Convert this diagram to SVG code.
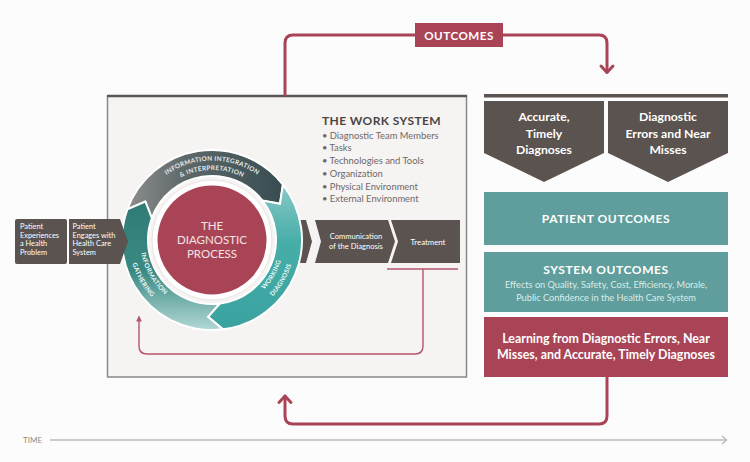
<svg xmlns="http://www.w3.org/2000/svg" width="750" height="462" viewBox="0 0 750 462">
  <style>
    .sans { font-family: Lato, "Open Sans", "Liberation Sans", sans-serif; }
    .gray { fill: #5a534f; }
    .wt { fill: #ffffff; }
    .bold { font-weight: bold; }
    .ring-label { font-family: Lato, "Open Sans", "Liberation Sans", sans-serif; font-size: 6.4px; font-weight: bold; letter-spacing: 0.3px; }
    .loop { fill: none; stroke: #a94456; stroke-width: 3; stroke-linecap: round; stroke-linejoin: round; }
    .inner-loop { fill: none; stroke: #b5566a; stroke-width: 1.4; }
    .seg { stroke: #ffffff; stroke-width: 2; }
  </style>
  <defs>
    <linearGradient id="gInteg" gradientUnits="userSpaceOnUse" x1="128" y1="0" x2="290" y2="0">
      <stop offset="0" stop-color="#8d8d8d"/>
      <stop offset="0.35" stop-color="#5e6869"/>
      <stop offset="1" stop-color="#344b4f"/>
    </linearGradient>
    <linearGradient id="gWork" gradientUnits="userSpaceOnUse" x1="0" y1="185" x2="0" y2="330">
      <stop offset="0" stop-color="#86c9c5"/>
      <stop offset="0.4" stop-color="#46ada9"/>
      <stop offset="1" stop-color="#3aa39f"/>
    </linearGradient>
    <linearGradient id="gGather" gradientUnits="userSpaceOnUse" x1="0" y1="200" x2="0" y2="330">
      <stop offset="0" stop-color="#2e7b74"/>
      <stop offset="0.55" stop-color="#3a8a83"/>
      <stop offset="1" stop-color="#b2d8d5"/>
    </linearGradient>
    <!-- baselines for the curved ring labels -->
    <path id="arcInteg1" d="M 136.82 213.32 A 80 80 0 0 1 287.18 213.32"/>
    <path id="arcInteg2" d="M 146.22 216.06 A 70 70 0 0 1 277.78 216.06"/>
    <path id="arcWork1" d="M 212 312 A 72 72 0 0 0 274.35 204"/>
    <path id="arcWork2" d="M 212 323 A 83 83 0 0 0 283.88 198.5"/>
    <path id="arcGather1" d="M 149.65 204 A 72 72 0 0 0 212 312"/>
    <path id="arcGather2" d="M 140.12 198.5 A 83 83 0 0 0 212 323"/>
    <marker id="smallHead" viewBox="0 0 10 10" refX="5" refY="5" markerWidth="5" markerHeight="5" orient="auto">
      <path d="M0 1 L9 5 L0 9 Z" fill="#b5566a"/>
    </marker>
  </defs>

  <rect x="0" y="0" width="750" height="462" fill="#fdfcfc"/>

  <!-- work system frame -->
  <g id="work-system">
    <rect x="107.5" y="96" width="359" height="281" fill="#f6f3f3" stroke="#8c8887" stroke-width="1.5"/>
    <line x1="107" y1="96" x2="467" y2="96" stroke="#5b5653" stroke-width="2.5"/>
    <text class="sans bold" x="322" y="125" font-size="12" fill="#4a4645" letter-spacing="0.4">THE WORK SYSTEM</text>
    <g class="sans" font-size="9.4" fill="#6e6968">
      <text x="322" y="138.5">• Diagnostic Team Members</text>
      <text x="322" y="151">• Tasks</text>
      <text x="322" y="164">• Technologies and Tools</text>
      <text x="322" y="177">• Organization</text>
      <text x="322" y="189.5">• Physical Environment</text>
      <text x="322" y="202">• External Environment</text>
    </g>
  </g>

  <!-- process flow behind the ring -->
  <g id="flow-stub">
    <polygon class="gray" points="290,220 306,220 312,241.5 306,263 290,263"/>
  </g>

  <!-- diagnostic process ring -->
  <g id="ring-integration">
    <path class="seg" fill="url(#gInteg)" d="M 127.43 209.22 A 90 90 0 0 1 282.92 184.59 L 279.98 203.85 L 262.43 200.60 A 64 64 0 0 0 151.86 218.11 L 145.32 201.5 Z"/>
    <text class="ring-label" fill="#e4eaea"><textPath href="#arcInteg1" startOffset="50%" text-anchor="middle">INFORMATION INTEGRATION</textPath></text>
    <text class="ring-label" fill="#e4eaea"><textPath href="#arcInteg2" startOffset="50%" text-anchor="middle">&amp; INTERPRETATION</textPath></text>
  </g>
  <g id="ring-working">
    <path class="seg" fill="url(#gWork)" d="M 282.92 184.59 A 90 90 0 0 1 222.97 329.33 L 207.97 316.89 L 219.80 303.52 A 64 64 0 0 0 262.43 200.60 L 279.98 203.85 Z"/>
    <text class="ring-label" fill="#eef7f6"><textPath href="#arcWork1" startOffset="50%" text-anchor="middle">WORKING</textPath></text>
    <text class="ring-label" fill="#eef7f6"><textPath href="#arcWork2" startOffset="50%" text-anchor="middle">DIAGNOSIS</textPath></text>
  </g>
  <g id="ring-gathering">
    <path class="seg" fill="url(#gGather)" d="M 222.97 329.33 A 90 90 0 0 1 127.43 209.22 L 145.32 201.5 L 151.86 218.11 A 64 64 0 0 0 219.80 303.52 L 207.97 316.89 Z"/>
    <text class="ring-label" fill="#eef7f6"><textPath href="#arcGather1" startOffset="50%" text-anchor="middle">INFORMATION</textPath></text>
    <text class="ring-label" fill="#eef7f6"><textPath href="#arcGather2" startOffset="50%" text-anchor="middle">GATHERING</textPath></text>
  </g>
  <g id="diagnostic-process">
    <circle cx="212" cy="240" r="60" fill="#ffffff" stroke="#ebe4e4" stroke-width="1"/>
    <circle cx="212" cy="240" r="54.5" fill="#a94456"/>
    <g class="sans" font-size="11.5" fill="#f3e4e7" text-anchor="middle">
      <text x="212" y="230">THE</text>
      <text x="212" y="244">DIAGNOSTIC</text>
      <text x="212" y="258">PROCESS</text>
    </g>
  </g>

  <!-- entry steps -->
  <g id="patient-experiences">
    <rect class="gray" x="15" y="219" width="52" height="45" rx="2"/>
    <g class="sans wt" font-size="7.4">
      <text x="20" y="229">Patient</text>
      <text x="20" y="237.5">Experiences</text>
      <text x="20" y="246">a Health</text>
      <text x="20" y="254.5">Problem</text>
    </g>
  </g>
  <g id="patient-engages">
    <polygon class="gray" points="69,219 120,219 128,241.5 120,264 69,264"/>
    <g class="sans wt" font-size="7.4">
      <text x="72.5" y="229">Patient</text>
      <text x="72.5" y="237.5">Engages with</text>
      <text x="72.5" y="246">Health Care</text>
      <text x="72.5" y="254.5">System</text>
    </g>
  </g>

  <!-- steps after the diagnosis -->
  <g id="communication">
    <polygon class="gray" points="315,220 388,220 395,241.5 388,263 315,263 321,241.5"/>
    <g class="sans wt" font-size="7.6" text-anchor="middle">
      <text x="356" y="239">Communication</text>
      <text x="356" y="248.5">of the Diagnosis</text>
    </g>
  </g>
  <g id="treatment">
    <polygon class="gray" points="391,220 460,220 460,263 391,263 398,241.5"/>
    <text class="sans wt" x="428" y="244.5" font-size="7.8" text-anchor="middle">Treatment</text>
  </g>

  <!-- outcomes column -->
  <g id="outcomes-column">
    <rect x="484" y="94" width="244" height="3.5" fill="#5a534f"/>
  </g>
  <g id="accurate-diagnoses">
    <polygon class="gray" points="484,101 604,101 604,153 544,182 484,153"/>
    <g class="sans bold wt" font-size="12.2" text-anchor="middle">
      <text x="544" y="121">Accurate,</text>
      <text x="544" y="137.5">Timely</text>
      <text x="544" y="154">Diagnoses</text>
    </g>
  </g>
  <g id="diagnostic-errors">
    <polygon class="gray" points="608,101 728,101 728,153 668,182 608,153"/>
    <g class="sans bold wt" font-size="12.2" text-anchor="middle">
      <text x="668" y="121">Diagnostic</text>
      <text x="668" y="137.5">Errors and Near</text>
      <text x="668" y="154">Misses</text>
    </g>
  </g>
  <g id="patient-outcomes">
    <rect x="484" y="192" width="244" height="53" fill="#5f9e9c"/>
    <text class="sans bold wt" x="606" y="223" font-size="12" text-anchor="middle" letter-spacing="0.6">PATIENT OUTCOMES</text>
  </g>
  <g id="system-outcomes">
    <rect x="484" y="252" width="244" height="60" fill="#5f9e9c"/>
    <text class="sans bold wt" x="606" y="273.5" font-size="12" text-anchor="middle" letter-spacing="0.6">SYSTEM OUTCOMES</text>
    <g class="sans" font-size="9.2" fill="#dcecea" text-anchor="middle">
      <text x="606" y="288">Effects on Quality, Safety, Cost, Efficiency, Morale,</text>
      <text x="606" y="301">Public Confidence in the Health Care System</text>
    </g>
  </g>
  <g id="learning">
    <rect x="484" y="317" width="244" height="60" fill="#a94456"/>
    <g class="sans bold wt" font-size="12.4" text-anchor="middle">
      <text x="606" y="342.5">Learning from Diagnostic Errors, Near</text>
      <text x="606" y="359">Misses, and Accurate, Timely Diagnoses</text>
    </g>
  </g>

  <!-- connectors -->
  <g id="connectors">
    <path class="loop" d="M 285 95 V 43 Q 285 35 293 35 H 599 Q 607 35 607 43 V 72"/>
    <polyline class="loop" points="601,66 607,72.5 613,66"/>
    <path class="loop" d="M 607 377 V 416 Q 607 424 599 424 H 293 Q 285 424 285 416 V 396"/>
    <polyline class="loop" points="279,402.5 285,396 291,402.5"/>
    <path class="inner-loop" d="M 387 269 H 458"/>
    <path class="inner-loop" d="M 423 269 V 346 Q 423 354 415 354 H 147 Q 139 354 139 346 V 318" marker-end="url(#smallHead)"/>
    <line x1="50" y1="440" x2="726" y2="440" stroke="#bdbaba" stroke-width="1.4"/>
    <polyline points="722,436 726.5,440 722,444" fill="none" stroke="#bdbaba" stroke-width="1.4"/>
  </g>

  <g id="outcomes-label">
    <rect x="415" y="23" width="88" height="24" fill="#a94456"/>
    <text class="sans bold wt" x="459" y="39.5" font-size="11.6" text-anchor="middle" letter-spacing="0.5">OUTCOMES</text>
  </g>

  <text class="sans" x="23" y="443" font-size="8" fill="#8f8b8b">TIME</text>
</svg>
